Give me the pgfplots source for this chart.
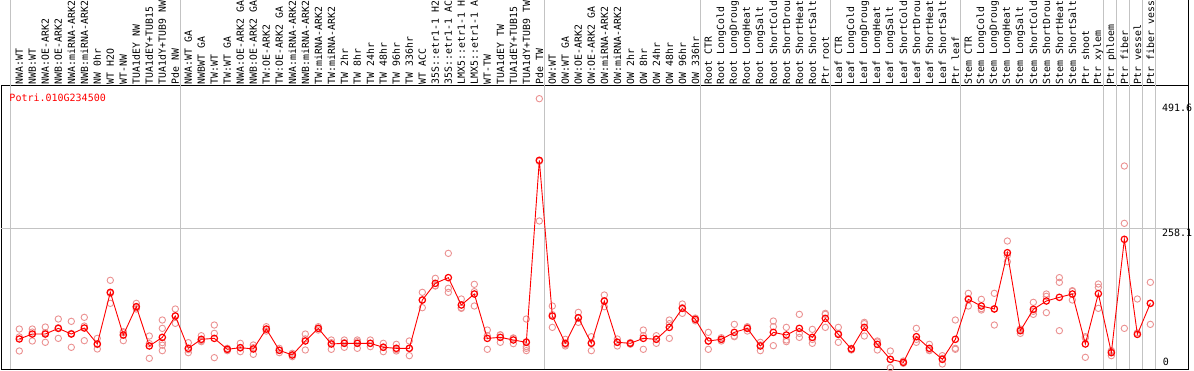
\documentclass[border=0pt]{standalone}
\usepackage{fontspec}
\usepackage{pgfplots}
\usepackage{pgfplotstable}
\pgfplotsset{compat=1.18}
\newfontfamily\labfont{DejaVu Sans Mono}
\newcommand{\lf}{\labfont\fontsize{10}{12}\selectfont}
\newcommand{\tf}{\labfont\fontsize{9.85}{12}\selectfont}
\definecolor{repred}{RGB}{235,145,145}
\definecolor{sepgray}{RGB}{195,195,195}
\pgfplotstableread{
x y
0 59.4
1 68.3
2 68.3
3 78.5
4 68.3
5 79.1
6 50.4
7 143.3
8 66.5
9 117.5
10 46.8
11 62.3
12 100.7
13 42.6
14 58.8
15 60.5
16 40.8
17 43.8
18 41.4
19 77.3
20 39.0
21 30.6
22 55.8
23 78.5
24 50.4
25 51.6
26 51.6
27 51.6
28 44.4
29 42.6
30 42.6
31 129.5
32 159.5
33 169.7
34 120.5
35 140.3
36 60.5
37 62.3
38 57.6
39 53.4
40 380.7
41 100.7
42 51.6
43 97.7
44 51.6
45 127.7
46 53.4
47 51.6
48 60.5
49 58.8
50 80.3
51 114.5
52 94.7
53 55.8
54 58.8
55 71.3
56 78.5
57 46.8
58 71.3
59 66.5
60 78.5
61 62.3
62 96.5
63 67.7
64 41.4
65 80.3
66 49.8
67 22.8
68 17.4
69 63.5
70 42.6
71 22.8
72 58.8
73 130.7
74 118.7
75 113.3
76 214.6
77 74.3
78 112.7
79 127.7
80 134.3
81 140.3
82 50.4
83 140.9
84 34.8
85 238.6
86 67.7
87 123.5
}\means
\pgfplotstableread{
x y
0 77.3
0 37.8
0 63.1
1 77.3
1 55.8
1 71.8
2 80.9
2 53.4
2 70.6
3 95.3
3 60.5
3 79.7
4 91.1
4 44.4
4 69.4
5 98.3
5 56.4
5 82.6
6 60.5
6 41.4
6 49.3
7 164.9
7 123.5
7 141.5
8 72.5
8 56.4
8 70.6
9 123.5
9 113.3
9 115.7
10 64.7
10 24.6
10 51.1
11 93.5
11 78.5
11 52.8
11 38.4
11 48.3
12 113.3
12 87.5
12 101.3
13 52.8
13 34.8
13 40.2
14 65.3
14 54.6
14 56.5
15 84.5
15 69.5
15 25.8
16 42.6
16 38.4
16 41.4
17 51.6
17 36.6
17 43.2
18 48.6
18 31.8
18 43.8
19 81.5
19 73.7
19 76.7
20 42.6
20 34.8
20 39.6
21 33.6
21 27.6
21 30.6
22 68.3
22 39.6
22 59.5
23 81.5
23 75.5
23 78.5
24 57.6
24 40.8
24 52.8
25 57.6
25 44.4
25 52.8
26 57.6
26 42.6
26 54.6
27 57.6
27 45.6
27 51.6
28 51.6
28 36.6
28 45.0
29 49.8
29 37.8
29 40.2
30 55.8
30 29.4
30 42.6
31 143.3
31 115.7
31 129.5
32 168.5
32 154.7
32 155.3
33 213.4
33 150.5
33 143.3
34 131.3
34 115.7
34 114.5
35 157.7
35 118.7
35 144.5
36 75.5
36 40.8
36 65.2
37 66.5
37 53.4
37 67.0
38 60.5
38 51.0
38 61.3
39 95.3
39 54.6
39 45.6
39 42.6
39 38.4
40 491.6
40 271.6
40 378.9
41 118.7
41 80.3
41 103.1
42 58.8
42 46.8
42 49.2
43 107.3
43 89.3
43 96.5
44 63.5
44 38.4
44 52.9
45 138.5
45 117.5
45 127.1
46 59.4
46 46.8
46 54.0
47 53.0
47 50.0
47 51.8
48 75.5
48 40.8
48 65.2
49 65.3
49 51.6
49 59.5
50 93.5
50 60.5
50 86.9
51 122.3
51 105.5
51 115.7
52 92.0
52 97.0
52 95.0
53 71.3
53 40.8
53 55.3
54 61.7
54 55.8
54 58.9
55 85.7
55 63.5
55 64.7
56 81.5
56 73.7
56 80.3
57 53.4
57 38.4
57 48.6
58 91.7
58 81.5
58 47.4
59 80.3
59 57.6
59 54.6
60 103.7
60 62.3
60 69.5
61 76.7
61 51.6
61 58.6
62 105.5
62 80.3
62 103.7
63 80.3
63 53.4
63 69.4
64 42.6
64 39.6
64 42.0
65 89.3
65 64.7
65 86.9
66 55.8
66 39.6
66 54.0
67 37.8
67 7.8
67 22.8
68 19.8
68 15.6
68 16.8
69 78.5
69 53.4
69 58.6
70 49.8
70 38.4
70 39.6
71 29.4
71 14.4
71 24.6
72 93.5
72 42.6
72 40.8
73 141.5
73 118.7
73 131.9
74 130.7
74 111.5
74 113.9
75 141.5
75 84.5
75 113.9
76 235.6
76 198.4
76 209.8
77 77.3
77 69.5
77 76.1
78 125.3
78 103.7
78 109.1
79 140.3
79 106.7
79 136.1
80 169.7
80 161.3
80 74.3
81 146.3
81 129.5
81 145.1
82 63.5
82 26.4
82 61.3
83 158.3
83 152.3
83 114.5
84 38.4
84 29.4
84 36.6
85 370.5
85 267.4
85 78.5
86 131.3
86 1.5
86 70.3
87 161.3
87 85.7
87 123.5
}\reps
\begin{document}
\begin{tikzpicture}
\begin{axis}[
  at={(1pt,1pt)}, anchor=south west,
  scale only axis, width=1187pt, height=284pt,
  xmin=-1.408, xmax=89.9, ymin=5.4, ymax=516.2,
  axis line style={black, line width=0.8pt},
  xtick={0,...,87},
  xticklabels={NWA:WT,NWB:WT,NWA:OE-ARK2,NWB:OE-ARK2,NWA:miRNA-ARK2,NWB:miRNA-ARK2,NW 0hr,WT H2O,WT-NW,TUA1dEY NW,TUA1dEY+TUB15,TUA1dY+TUB9 NW,Pde NW,NWA:WT GA,NWBWT GA,TW:WT,TW:WT GA,NWA:OE-ARK2 GA,NWB:OE-ARK2 GA,TW:OE-ARK2,TW:OE-ARK2 GA,NWA:miRNA-ARK2,NWB:miRNA-ARK2,TW:miRNA-ARK2,TW:miRNA-ARK2,TW 2hr,TW 8hr,TW 24hr,TW 48hr,TW 96hr,TW 336hr,WT ACC,35S::etr1-1 H2,35S::etr1-1 AC,LMX5::etr1-1 H,LMX5::etr1-1 A,WT-TW,TUA1dEY TW,TUA1dEY+TUB15,TUA1dY+TUB9 TW,Pde TW,OW:WT,OW:WT GA,OW:OE-ARK2,OW:OE-ARK2 GA,OW:miRNA-ARK2,OW:miRNA-ARK2,OW 2hr,OW 8hr,OW 24hr,OW 48hr,OW 96hr,OW 336hr,Root CTR,Root LongCold,Root LongDroug,Root LongHeat,Root LongSalt,Root ShortCold,Root ShortDrou,Root ShortHeat,Root ShortSalt,Ptr root,Leaf CTR,Leaf LongCold,Leaf LongDroug,Leaf LongHeat,Leaf LongSalt,Leaf ShortCold,Leaf ShortDrou,Leaf ShortHeat,Leaf ShortSalt,Ptr leaf,Stem CTR,Stem LongCold,Stem LongDroug,Stem LongHeat,Stem LongSalt,Stem ShortCold,Stem ShortDrou,Stem ShortHeat,Stem ShortSalt,Ptr shoot,Ptr xylem,Ptr phloem,Ptr fiber,Ptr vessel,Ptr fiber vess},
  xticklabel pos=right,
  ytick=\empty,
  major tick length=0pt,
  xtick style={draw=none},
  xticklabel style={rotate=90, anchor=west, font=\tf, inner xsep=0.8pt, inner ysep=0pt},
  clip mode=individual,
]
\draw[sepgray, line width=0.8pt] (axis cs:-1.408,258.1) -- (axis cs:89.9,258.1);
\pgfplotsinvokeforeach{-0.692,12.385,40.385,52.385,62.385,72.385,83.385,84.41,85.385,86.385,87.385}{
  \draw[sepgray, line width=0.8pt] (axis cs:#1,5.4) -- (axis cs:#1,720);
}
\draw[black, line width=0.8pt] (axis cs:89.9,516.2) -- (axis cs:89.9,720);
\addplot[only marks, mark=o, mark size=3.2pt, repred, mark options={line width=0.9pt}] table {\reps};
\addplot[red, line width=0.9pt, mark=o, mark size=3.2pt, mark options={line width=1.2pt, red}] table {\means};
\node[anchor=west, inner sep=0pt, font=\lf] at (axis cs:87.88,475.4) {491.6};
\node[anchor=west, inner sep=0pt, font=\lf] at (axis cs:87.88,250.5) {258.1};
\node[anchor=west, inner sep=0pt, font=\lf] at (axis cs:87.95,18.5) {0};
\node[anchor=west, inner sep=0pt, font=\lf, text=red] at (axis cs:-0.77,494.1) {Potri.010G234500};
\end{axis}
\pgfresetboundingbox
\path[use as bounding box] (0,0) rectangle (1194pt,370pt);
\end{tikzpicture}
\end{document}
